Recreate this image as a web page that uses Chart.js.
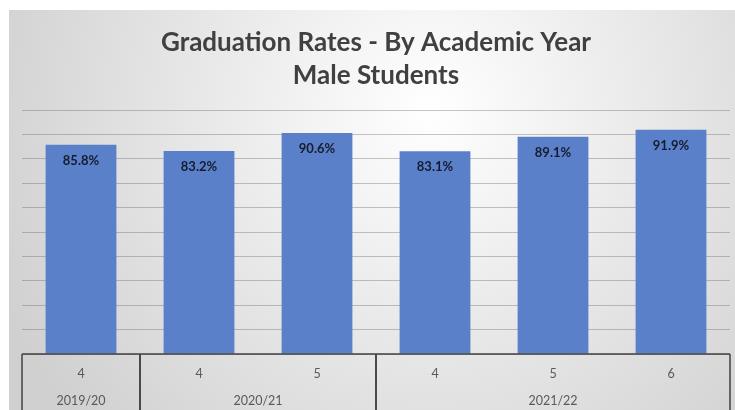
<!DOCTYPE html>
<html>
<head>
<meta charset="utf-8">
<script src="https://cdn.jsdelivr.net/npm/chart.js@4/dist/chart.umd.min.js"></script>
<style>
  html, body { margin: 0; padding: 0; background: #ffffff; }
  #wrap { width: 735px; height: 410px; position: relative; }
</style>
</head>
<body>
<div id="wrap"><canvas id="gradChart" width="735" height="410"></canvas></div>
<script>
// data
const cohortLabels = ['4', '4', '5', '4', '5', '6'];
const yearLabels = ['2019/20', '2020/21', '2021/22'];
const yearSizes = [1, 2, 3];
const gradRates = [85.8, 83.2, 90.6, 83.1, 89.1, 91.9];
const titleLines = ['Graduation Rates - By Academic Year', 'Male Students'];

const fontFamily = 'Lato, "Open Sans", sans-serif';

// soft grey/white background behind the whole chart
const bgPlugin = {
  id: 'bg',
  beforeDraw(chart) {
    const c = chart.ctx;
    c.save();
    c.fillStyle = '#ffffff';
    c.fillRect(0, 0, chart.width, chart.height);
    const g = c.createRadialGradient(430, 110, 0, 430, 110, 470);
    g.addColorStop(0, '#ffffff');
    g.addColorStop(1, '#d0d0d0');
    c.fillStyle = g;
    c.fillRect(9, 10, chart.width - 9, chart.height - 10);
    c.restore();
  }
};

// percent labels inside the top of each bar
const valueLabels = {
  id: 'valueLabels',
  afterDatasetsDraw(chart) {
    const c = chart.ctx;
    const meta = chart.getDatasetMeta(0);
    c.save();
    c.font = 'bold 13px ' + fontFamily;
    c.fillStyle = '#161c2c';
    c.textAlign = 'center';
    c.textBaseline = 'middle';
    meta.data.forEach((bar, i) => {
      c.fillText(gradRates[i].toFixed(1) + '%', bar.x, bar.y + 16);
    });
    c.restore();
  }
};

// two-level category table under the plot
const groupAxis = {
  id: 'groupAxis',
  afterDraw(chart) {
    const c = chart.ctx;
    const x = chart.scales.x;
    const area = chart.chartArea;
    const step = x.getPixelForValue(1) - x.getPixelForValue(0);
    const top = area.bottom;
    c.save();
    c.strokeStyle = '#404040';
    c.lineWidth = 1.5;
    c.beginPath();
    c.moveTo(area.left, top);
    c.lineTo(area.right, top);
    c.stroke();

    c.font = '12.5px ' + fontFamily;
    c.fillStyle = '#595959';
    c.textAlign = 'center';
    c.textBaseline = 'middle';
    cohortLabels.forEach((lab, i) => {
      c.fillText(lab, x.getPixelForValue(i), top + 20);
    });

    let idx = 0;
    yearLabels.forEach((lab, gi) => {
      const left = x.getPixelForValue(idx) - step / 2;
      const right = x.getPixelForValue(idx + yearSizes[gi] - 1) + step / 2;
      c.beginPath();
      c.moveTo(left, top);
      c.lineTo(left, chart.height);
      c.moveTo(right, top);
      c.lineTo(right, chart.height);
      c.stroke();
      c.fillText(lab, (left + right) / 2, top + 47);
      idx += yearSizes[gi];
    });
    c.restore();
  }
};

const ctx = document.getElementById('gradChart').getContext('2d');
new Chart(ctx, {
  type: 'bar',
  data: {
    labels: cohortLabels,
    datasets: [{
      data: gradRates,
      backgroundColor: '#5a80ca',
      barPercentage: 0.6,
      categoryPercentage: 1
    }]
  },
  options: {
    responsive: false,
    animation: false,
    layout: { padding: { left: 22, right: 5, top: 0, bottom: 56 } },
    plugins: {
      legend: { display: false },
      tooltip: { enabled: false },
      title: {
        display: true,
        text: titleLines,
        color: '#404040',
        font: { family: fontFamily, size: 26, weight: 'bold', lineHeight: 1.27 },
        padding: { top: 26, bottom: 18 }
      }
    },
    scales: {
      x: { display: false },
      y: {
        min: 0,
        max: 100,
        ticks: { display: false, stepSize: 10 },
        border: { display: false },
        grid: { color: 'rgba(110,110,110,0.4)', drawTicks: false }
      }
    }
  },
  plugins: [bgPlugin, valueLabels, groupAxis]
});
</script>
</body>
</html>
